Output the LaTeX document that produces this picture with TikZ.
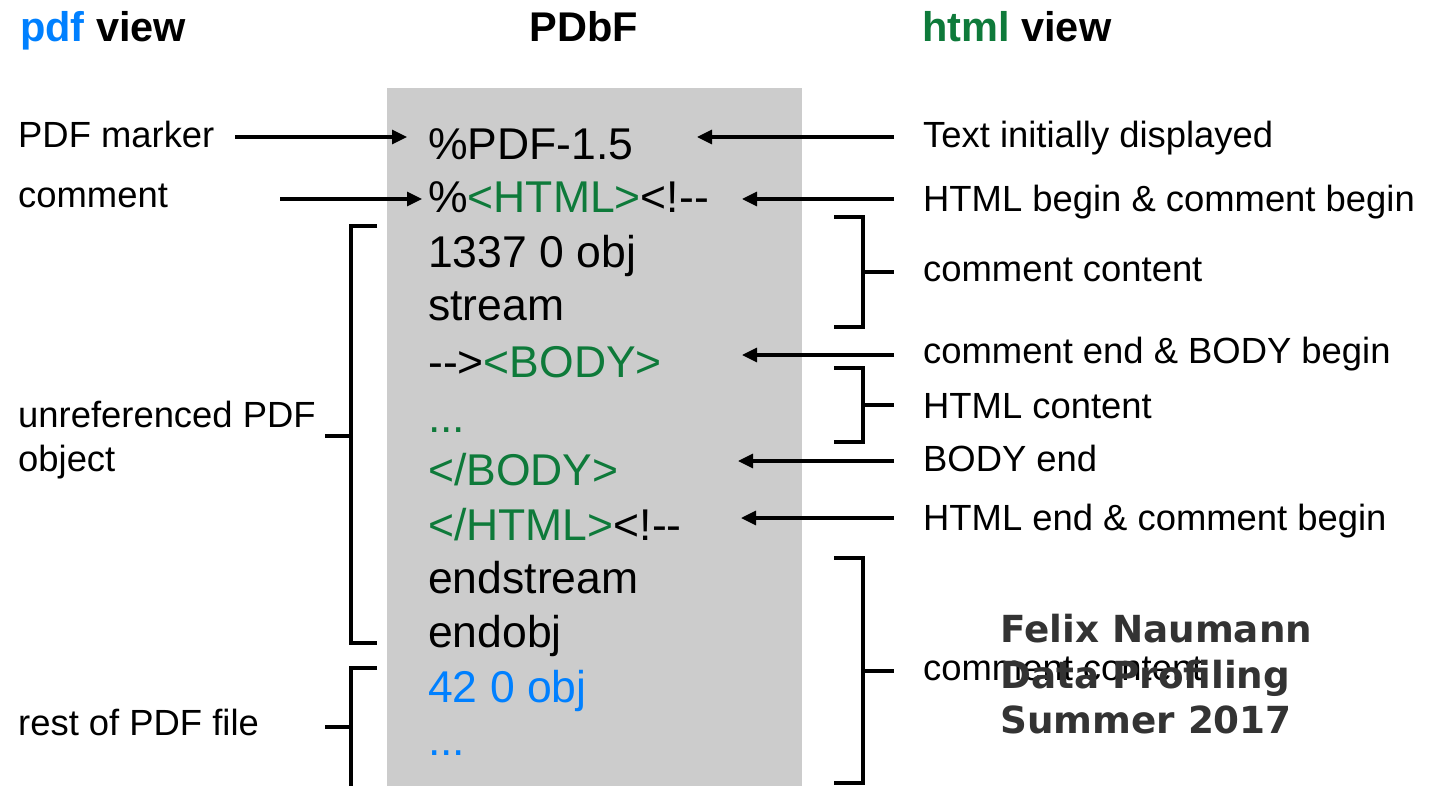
\documentclass[tikz,border=0pt]{standalone}
\usepackage{fontspec}
\setmainfont{Liberation Sans}[Ligatures=TeXOff]
\newfontfamily\wmfont{DejaVu Sans}
\usetikzlibrary{arrows.meta}
\definecolor{pdfblue}{RGB}{0,128,255}
\definecolor{htmlgreen}{RGB}{14,122,58}
\definecolor{boxgray}{RGB}{204,204,204}
\definecolor{wmgray}{RGB}{51,51,51}
\begin{document}
\begin{tikzpicture}[x=1pt,y=-1pt,
  hdr/.style={anchor=base west, inner sep=0, font=\fontsize{41.5}{48}\selectfont\bfseries},
  code/.style={anchor=base west, inner sep=0, font=\fontsize{44.5}{52}\selectfont},
  lbl/.style={anchor=base west, inner sep=0, font=\fontsize{36.4}{44}\selectfont},
  wm/.style={anchor=base west, inner sep=0, text=wmgray, font=\wmfont\bfseries\fontsize{37.3}{45}\selectfont},
  arr/.style={line width=3.2pt, -{Triangle[length=15pt,width=14pt]}},
  brk/.style={line width=3.2pt, line join=miter},
]
\useasboundingbox (0,0) rectangle (1434,786);
\fill[boxgray] (387,88) rectangle (802,786);

% headers
\node[hdr] (hpdf) at (20,42) {{\color{pdfblue}pdf} view};
\node[hdr, anchor=base] (hpdbf) at (584,42) {PDbF};
\node[hdr] (hhtml) at (922,42) {{\color{htmlgreen}html} view};

% code lines
\node[code] (c1) at (428,160) {\%PDF-1.5};
\node[code] (c2) at (428,213) {\%{\color{htmlgreen}<HTML>}<!--};
\node[code] (c3) at (428,268) {1337 0 obj};
\node[code] (c4) at (428,320) {stream};
\node[code] (c5) at (428,377) {-->{\color{htmlgreen}<BODY>}};
\node[code, text=htmlgreen] (c6) at (428,432) {...};
\node[code, text=htmlgreen] (c7) at (428,485) {</BODY>};
\node[code] (c8) at (428,540) {{\color{htmlgreen}</HTML>}<!--};
\node[code] (c9) at (428,593) {endstream};
\node[code] (c10) at (428,647) {endobj};
\node[code, text=pdfblue] (c11) at (428,702) {42 0 obj};
\node[code, text=pdfblue] (c12) at (428,755) {...};

% left labels
\node[lbl] (lpm) at (18,148) {PDF marker};
\node[lbl] (lcom) at (18,208) {comment};
\node[lbl, anchor=west, align=left] (lunref) at (18,440) {unreferenced PDF\\object};
\node[lbl] (lrest) at (18,735) {rest of PDF file};

% right labels
\node[lbl] (rtext) at (923,148) {Text initially displayed};
\node[lbl] (rhb) at (923,212) {HTML begin \& comment begin};
\node[lbl] (rcc1) at (923,281) {comment content};
\node[lbl] (rce) at (923,363) {comment end \& BODY begin};
\node[lbl] (rhc) at (923,418) {HTML content};
\node[lbl] (rbe) at (923,471) {BODY end};
\node[lbl] (rhe) at (923,530) {HTML end \& comment begin};
\node[lbl] (rcc2) at (923,680) {comment content};

% arrow endpoints
\coordinate (a1s) at (235,137); \coordinate (a1e) at (407,137);
\coordinate (a2s) at (280,199); \coordinate (a2e) at (422,199);
\coordinate (b1s) at (894,137); \coordinate (b1e) at (697,137);
\coordinate (b2s) at (894,199); \coordinate (b2e) at (742,199);
\coordinate (b3s) at (894,355); \coordinate (b3e) at (742,355);
\coordinate (b4s) at (894,461); \coordinate (b4e) at (738,461);
\coordinate (b5s) at (894,518); \coordinate (b5e) at (741,518);

\draw[arr] (a1s) -- (a1e);
\draw[arr] (a2s) -- (a2e);
\draw[arr] (b1s) -- (b1e);
\draw[arr] (b2s) -- (b2e);
\draw[arr] (b3s) -- (b3e);
\draw[arr] (b4s) -- (b4e);
\draw[arr] (b5s) -- (b5e);

% left brackets
\draw[brk] (377,226) -| (351,643) -- (377,643);
\draw[brk] (351,436) -- (325,436);
\draw[brk] (377,668) -| (351,790);
\draw[brk] (351,727) -- (325,727);

% right brackets
\draw[brk] (834,217) -| (863,327) -- (834,327);
\draw[brk] (863,272) -- (894,272);
\draw[brk] (834,368) -| (863,442) -- (834,442);
\draw[brk] (863,405) -- (894,405);
\draw[brk] (834,558) -| (863,783) -- (834,783);
\draw[brk] (863,671) -- (894,671);

% watermark
\node[wm] (w1) at (1000,642) {Felix Naumann};
\node[wm] (w2) at (1000,688) {Data Profiling};
\node[wm] (w3) at (1000,733) {Summer 2017};
\end{tikzpicture}
\end{document}
